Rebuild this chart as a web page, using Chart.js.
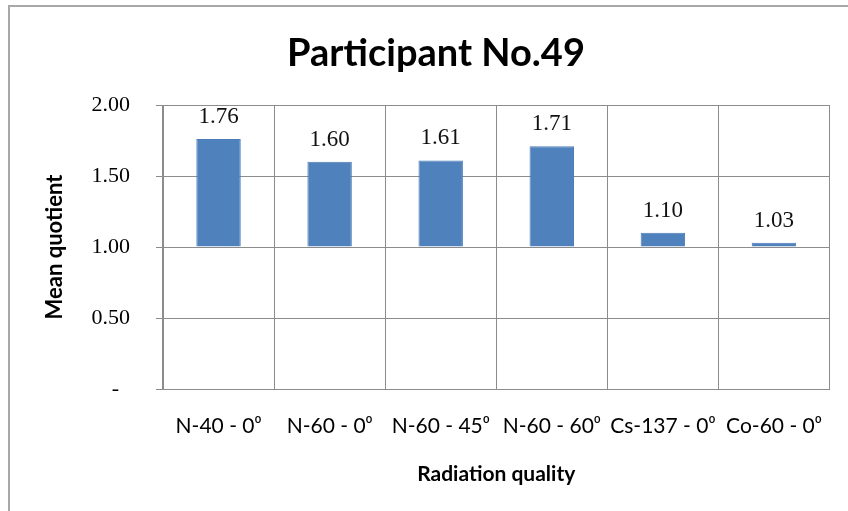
<!DOCTYPE html>
<html>
<head>
<meta charset="utf-8">
<script src="https://cdn.jsdelivr.net/npm/chart.js@4/dist/chart.umd.min.js"></script>
<style>
  html, body { margin: 0; padding: 0; background: #ffffff; }
  #wrap { position: relative; width: 848px; height: 511px; }
</style>
</head>
<body>
<div id="wrap"><canvas id="chart" width="848" height="511"></canvas></div>
<script>
// Radiation qualities on the category axis
const categories = ['N-40 - 0\u2070', 'N-60 - 0\u2070', 'N-60 - 45\u2070', 'N-60 - 60\u2070', 'Cs-137 - 0\u2070', 'Co-60 - 0\u2070'];
// Mean quotient per radiation quality
const meanQuotient = [1.76, 1.60, 1.61, 1.71, 1.10, 1.03];
// Value-axis ticks
const yTickValues = [0, 0.5, 1.0, 1.5, 2.0];
// Bars grow from this reference value
const barBase = 1.0;

const SANS = 'Lato, "Open Sans", "DejaVu Sans", sans-serif';
const SERIF = '"Liberation Serif", "DejaVu Serif", serif';
const GRID = '#8c8c8c';

// Thin gray frame around the whole chart
const framePlugin = {
  id: 'frame',
  beforeDraw(chart) {
    const ctx = chart.ctx;
    ctx.save();
    ctx.strokeStyle = '#a8a8a8';
    ctx.lineWidth = 2;
    ctx.beginPath();
    ctx.moveTo(9, 511);
    ctx.lineTo(9, 6);
    ctx.lineTo(848, 6);
    ctx.stroke();
    ctx.restore();
  }
};

// Value labels above each bar
const valueLabels = {
  id: 'valueLabels',
  afterDatasetsDraw(chart) {
    const ctx = chart.ctx;
    const meta = chart.getDatasetMeta(0);
    ctx.save();
    ctx.font = '23px ' + SERIF;
    ctx.fillStyle = '#111111';
    ctx.textAlign = 'center';
    ctx.textBaseline = 'alphabetic';
    meta.data.forEach((bar, i) => {
      const v = chart.data.datasets[0].data[i];
      ctx.fillText(v.toFixed(2), bar.x, bar.y - 16);
    });
    ctx.restore();
  }
};

new Chart(document.getElementById('chart'), {
  type: 'bar',
  data: {
    labels: categories,
    datasets: [{
      label: 'Mean quotient',
      data: meanQuotient,
      base: barBase,
      backgroundColor: '#4f81bd',
      borderColor: '#4b7cb8',
      borderWidth: 1,
      categoryPercentage: 1.0,
      barPercentage: 0.4
    }]
  },
  options: {
    responsive: false,
    animation: false,
    devicePixelRatio: 1,
    layout: { padding: { left: 39, right: 15, top: 0, bottom: 0 } },
    plugins: {
      legend: { display: false },
      tooltip: { enabled: false },
      title: {
        display: true,
        text: 'Participant No.49',
        color: '#000000',
        font: { family: SANS, size: 38, weight: 'bold', lineHeight: '46px' },
        padding: { top: 31, bottom: 28 }
      }
    },
    scales: {
      x: {
        afterFit(scale) { scale.height = 122; },
        grid: { display: true, color: GRID, lineWidth: 1, offset: true, drawTicks: false },
        border: { display: true, color: GRID, width: 1 },
        ticks: {
          color: '#000000',
          font: { family: SANS, size: 21 },
          padding: 25,
          maxRotation: 0,
          autoSkip: false
        },
        title: {
          display: true,
          text: 'Radiation quality',
          color: '#000000',
          font: { family: SANS, size: 21, weight: 'bold', lineHeight: '26px' },
          padding: { top: 0, bottom: 24 }
        }
      },
      y: {
        min: 0,
        max: 2,
        afterFit(scale) { scale.width = 124; },
        afterBuildTicks(scale) { scale.ticks = yTickValues.map(v => ({ value: v })); },
        grid: { display: true, color: GRID, lineWidth: 1, drawTicks: true, tickLength: 7 },
        border: { display: true, color: GRID, width: 1 },
        ticks: {
          color: '#000000',
          font: { family: SERIF, size: 22 },
          padding: 26,
          callback: (v) => v === 0 ? '-  ' : Number(v).toFixed(2)
        },
        title: {
          display: true,
          text: 'Mean quotient',
          color: '#000000',
          font: { family: SANS, size: 22, weight: 'bold', lineHeight: '26px' },
          padding: { top: 3, bottom: 0 }
        }
      }
    }
  },
  plugins: [framePlugin, valueLabels]
});
</script>
</body>
</html>
